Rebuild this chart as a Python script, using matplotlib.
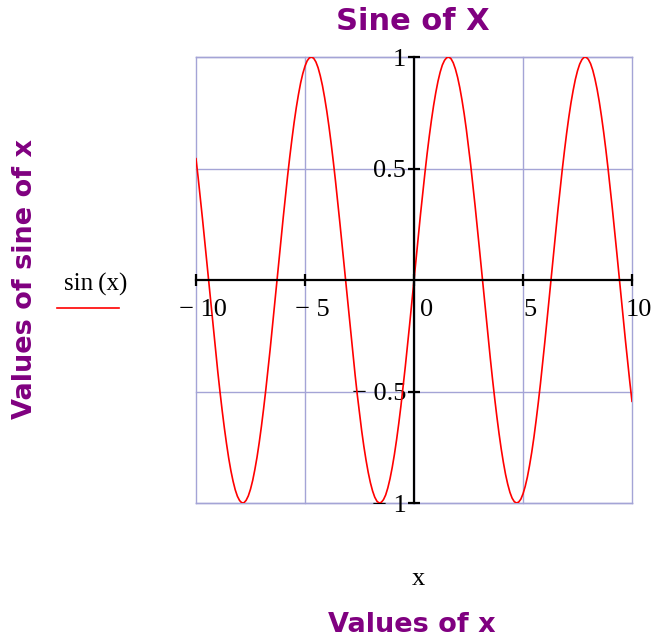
import matplotlib
matplotlib.use("Agg")
import matplotlib.pyplot as plt
from matplotlib.lines import Line2D

# points, x from -10 to 10 in steps of 0.1
x_vals = [
    -10.0, -9.9, -9.8, -9.7, -9.6, -9.5, -9.4, -9.3, -9.2, -9.1,
    -9.0, -8.9, -8.8, -8.7, -8.6, -8.5, -8.4, -8.3, -8.2, -8.1,
    -8.0, -7.9, -7.8, -7.7, -7.6, -7.5, -7.4, -7.3, -7.2, -7.1,
    -7.0, -6.9, -6.8, -6.7, -6.6, -6.5, -6.4, -6.3, -6.2, -6.1,
    -6.0, -5.9, -5.8, -5.7, -5.6, -5.5, -5.4, -5.3, -5.2, -5.1,
    -5.0, -4.9, -4.8, -4.7, -4.6, -4.5, -4.4, -4.3, -4.2, -4.1,
    -4.0, -3.9, -3.8, -3.7, -3.6, -3.5, -3.4, -3.3, -3.2, -3.1,
    -3.0, -2.9, -2.8, -2.7, -2.6, -2.5, -2.4, -2.3, -2.2, -2.1,
    -2.0, -1.9, -1.8, -1.7, -1.6, -1.5, -1.4, -1.3, -1.2, -1.1,
    -1.0, -0.9, -0.8, -0.7, -0.6, -0.5, -0.4, -0.3, -0.2, -0.1,
    0.0, 0.1, 0.2, 0.3, 0.4, 0.5, 0.6, 0.7, 0.8, 0.9,
    1.0, 1.1, 1.2, 1.3, 1.4, 1.5, 1.6, 1.7, 1.8, 1.9,
    2.0, 2.1, 2.2, 2.3, 2.4, 2.5, 2.6, 2.7, 2.8, 2.9,
    3.0, 3.1, 3.2, 3.3, 3.4, 3.5, 3.6, 3.7, 3.8, 3.9,
    4.0, 4.1, 4.2, 4.3, 4.4, 4.5, 4.6, 4.7, 4.8, 4.9,
    5.0, 5.1, 5.2, 5.3, 5.4, 5.5, 5.6, 5.7, 5.8, 5.9,
    6.0, 6.1, 6.2, 6.3, 6.4, 6.5, 6.6, 6.7, 6.8, 6.9,
    7.0, 7.1, 7.2, 7.3, 7.4, 7.5, 7.6, 7.7, 7.8, 7.9,
    8.0, 8.1, 8.2, 8.3, 8.4, 8.5, 8.6, 8.7, 8.8, 8.9,
    9.0, 9.1, 9.2, 9.3, 9.4, 9.5, 9.6, 9.7, 9.8, 9.9,
    10.0]
y_vals = [
    0.544, 0.458, 0.367, 0.272, 0.174, 0.075, -0.025, -0.125, -0.223, -0.319,
    -0.412, -0.501, -0.585, -0.663, -0.734, -0.799, -0.855, -0.902, -0.941, -0.970,
    -0.989, -0.999, -0.999, -0.988, -0.968, -0.938, -0.899, -0.850, -0.794, -0.729,
    -0.657, -0.578, -0.494, -0.405, -0.312, -0.215, -0.117, -0.017, 0.083, 0.182,
    0.279, 0.374, 0.465, 0.551, 0.631, 0.706, 0.773, 0.832, 0.884, 0.926,
    0.959, 0.983, 0.996, 1.000, 0.994, 0.978, 0.952, 0.916, 0.872, 0.818,
    0.757, 0.688, 0.612, 0.530, 0.443, 0.351, 0.256, 0.158, 0.058, -0.042,
    -0.141, -0.239, -0.335, -0.427, -0.516, -0.598, -0.676, -0.746, -0.808, -0.863,
    -0.909, -0.946, -0.974, -0.992, -1.000, -0.997, -0.985, -0.964, -0.932, -0.891,
    -0.841, -0.783, -0.717, -0.644, -0.565, -0.479, -0.389, -0.296, -0.199, -0.100,
    0.000, 0.100, 0.199, 0.296, 0.389, 0.479, 0.565, 0.644, 0.717, 0.783,
    0.841, 0.891, 0.932, 0.964, 0.985, 0.997, 1.000, 0.992, 0.974, 0.946,
    0.909, 0.863, 0.808, 0.746, 0.676, 0.598, 0.516, 0.427, 0.335, 0.239,
    0.141, 0.042, -0.058, -0.158, -0.256, -0.351, -0.443, -0.530, -0.612, -0.688,
    -0.757, -0.818, -0.872, -0.916, -0.952, -0.978, -0.994, -1.000, -0.996, -0.983,
    -0.959, -0.926, -0.884, -0.832, -0.773, -0.706, -0.631, -0.551, -0.465, -0.374,
    -0.279, -0.182, -0.083, 0.017, 0.117, 0.215, 0.312, 0.405, 0.494, 0.578,
    0.657, 0.729, 0.794, 0.850, 0.899, 0.938, 0.968, 0.988, 0.999, 0.999,
    0.989, 0.970, 0.941, 0.902, 0.855, 0.799, 0.734, 0.663, 0.585, 0.501,
    0.412, 0.319, 0.223, 0.125, 0.025, -0.075, -0.174, -0.272, -0.367, -0.458,
    -0.544]

x_ticks = [-10, -5, 0, 5, 10]
x_tick_labels = ["\u2212 10", "\u2212 5", "0", "5", "10"]
y_ticks = [-1, -0.5, 0.5, 1]
y_tick_labels = ["\u2212 1", "\u2212 0.5", "0.5", "1"]

purple = "#800080"
grid_col = "#a4a4d6"
serif = "Liberation Serif"

W, H = 657, 641
fig = plt.figure(figsize=(W / 100, H / 100), dpi=100)
ax = fig.add_axes([196 / W, 1 - 503 / H, 436 / W, 446 / H])

ax.plot(x_vals, y_vals, color="red", lw=1.2, zorder=3)
ax.set_xlim(-10, 10)
ax.set_ylim(-1, 1)

# centred axes
for s in ["top", "right"]:
    ax.spines[s].set_visible(False)
for s in ["left", "bottom"]:
    ax.spines[s].set_position("zero")
    ax.spines[s].set_linewidth(1.6)
    ax.spines[s].set_zorder(4)

ax.set_xticks(x_ticks)
ax.set_xticklabels([])
ax.set_yticks(y_ticks)
ax.set_yticklabels(y_tick_labels, fontfamily=serif, fontsize=19)
ax.tick_params(direction="inout", length=9, width=1.6, pad=1)
for lbl in ax.get_yticklabels():
    lbl.set_verticalalignment("center_baseline")

# light grid incl. the frame
ax.grid(True, color=grid_col, lw=1)
for gl in ax.get_xgridlines() + ax.get_ygridlines():
    gl.set_clip_on(False)
ax.axhline(-1, color=grid_col, lw=1, clip_on=False, zorder=0)
ax.axhline(1, color=grid_col, lw=1, clip_on=False, zorder=0)

# x tick labels sit a little right of their ticks, "0" clears the y axis
for v, lab in zip(x_ticks, x_tick_labels):
    dx = 9 if v == 0 else 5
    ax.annotate(lab, (v, 0), xytext=(dx, -13.5), textcoords="offset points",
                ha="center", va="top", fontfamily=serif, fontsize=19)

# titles
fig.text(413 / W, 1 - 22 / H, "Sine of X", ha="center", va="center",
         color=purple, fontsize=22, fontweight="bold")
fig.text(418 / W, 1 - 579 / H, "x", ha="center", va="center",
         fontfamily=serif, fontsize=19)
fig.text(412 / W, 1 - 625 / H, "Values of x", ha="center", va="center",
         color=purple, fontsize=19.5, fontweight="bold")
fig.text(25 / W, 1 - 279 / H, "Values of sine of x", ha="center", va="center",
         rotation=90, color=purple, fontsize=19.5, fontweight="bold")

# legend in Mathcad style (label above line)
fig.text(96 / W, 1 - 284 / H, "sin\u2009(x)", ha="center", va="center",
         fontfamily=serif, fontsize=18)
fig.add_artist(Line2D([57 / W, 119 / W], [1 - 308 / H, 1 - 308 / H],
                      color="red", lw=1.2, transform=fig.transFigure))

fig.savefig("out.png", dpi=100)
